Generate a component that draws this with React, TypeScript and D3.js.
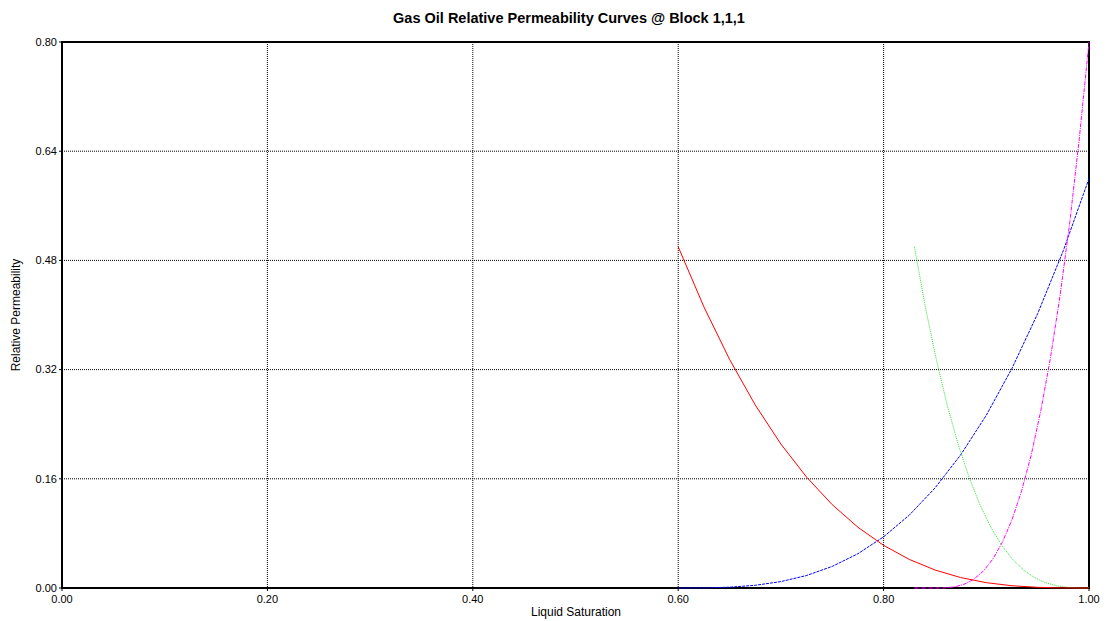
import React from "react";
import * as d3 from "d3";

// Liquid saturation grids and relative permeability tables
const slRegion1 = [0.6, 0.625, 0.65, 0.675, 0.7, 0.725, 0.75, 0.775, 0.8, 0.825, 0.85, 0.875, 0.9, 0.925, 0.95, 0.975, 1.0];
const krgRegion1 = [0.5, 0.412, 0.335, 0.2682, 0.2109, 0.1625, 0.1221, 0.089, 0.0625, 0.0419, 0.0264, 0.0153, 0.0078, 0.0033, 0.001, 0.0001, 0];
const krogRegion1 = [0, 0.00015, 0.00117, 0.00396, 0.00938, 0.01831, 0.03164, 0.05024, 0.075, 0.10679, 0.14648, 0.19497, 0.25313, 0.32183, 0.40195, 0.49439, 0.6];

const slKrgRegion2 = [0.83, 0.8406, 0.8513, 0.8619, 0.8725, 0.8831, 0.8938, 0.9044, 0.915, 0.9256, 0.9363, 0.9469, 0.9575, 0.9681, 0.9788, 0.9894, 1.0];
const krgRegion2 = [0.5, 0.412, 0.335, 0.2682, 0.2109, 0.1625, 0.1221, 0.089, 0.0625, 0.0419, 0.0264, 0.0153, 0.0078, 0.0033, 0.001, 0.0001, 0];

const slKrogRegion2 = [0.83, 0.85, 0.8594, 0.8688, 0.8781, 0.8875, 0.8969, 0.9063, 0.9156, 0.925, 0.9344, 0.9438, 0.9531, 0.9625, 0.9719, 0.9813, 0.9906, 1.0];
const krogRegion2 = [0, 0, 0.0002, 0.00156, 0.00527, 0.0125, 0.0244, 0.0422, 0.067, 0.1, 0.1424, 0.1953, 0.26, 0.3375, 0.4291, 0.5359, 0.6592, 0.8];

const xTicks = [0, 0.2, 0.4, 0.6, 0.8, 1.0];
const yTicks = [0, 0.16, 0.32, 0.48, 0.64, 0.8];

const title = "Gas Oil Relative Permeability Curves @ Block 1,1,1";
const xTitle = "Liquid Saturation";
const yTitle = "Relative Permeability";

const W = 1109;
const H = 621;
const left = 62;
const right = 1089;
const top = 42;
const bottom = 588;

const FONT = "'Liberation Sans', Arial, sans-serif";

export default function App() {
  const x = d3.scaleLinear().domain([0, 1]).range([left, right]);
  const y = d3.scaleLinear().domain([0, 0.8]).range([bottom, top]);

  const line = d3
    .line<[number, number]>()
    .x((d) => x(d[0]))
    .y((d) => y(d[1]));

  const zip = (a: number[], b: number[]) => a.map((v, i) => [v, b[i]] as [number, number]);

  const series = [
    { pts: zip(slRegion1, krogRegion1), color: "#0000ff", dash: "3,1" },
    { pts: zip(slKrogRegion2, krogRegion2), color: "#ff00ff", dash: "4,1,1,1" },
    { pts: zip(slKrgRegion2, krgRegion2), color: "#33e033", dash: "1,1" },
    { pts: zip(slRegion1, krgRegion1), color: "#ff0000", dash: undefined },
  ];

  return (
    <svg
      width={W}
      height={H}
      style={{ position: "absolute", left: 0, top: 0, background: "#ffffff" }}
      fontFamily={FONT}
    >
      <rect x={0} y={0} width={W} height={H} fill="#ffffff" />
      {/* grid */}
      {xTicks.slice(1, -1).map((t) => (
        <line key={"gx" + t} x1={x(t)} x2={x(t)} y1={top} y2={bottom} stroke="#000" strokeWidth={1} strokeDasharray="1,1" />
      ))}
      {yTicks.slice(1, -1).map((t) => (
        <line key={"gy" + t} x1={left} x2={right} y1={y(t)} y2={y(t)} stroke="#000" strokeWidth={1} strokeDasharray="1,1" />
      ))}

      {/* frame */}
      <rect x={left} y={top} width={right - left} height={bottom - top} fill="none" stroke="#000" strokeWidth={2} />

      {/* curves */}
      {series.map((s, i) => (
        <path
          key={i}
          d={line(s.pts) ?? ""}
          fill="none"
          stroke={s.color}
          strokeWidth={1}
          strokeDasharray={s.dash}
        />
      ))}

      {/* y axis ticks and labels */}
      {yTicks.map((t) => (
        <g key={"yt" + t}>
          <line x1={left - 3} x2={left} y1={y(t)} y2={y(t)} stroke="#000" strokeWidth={1} />
          <text x={left - 5} y={y(t)} dy="0.35em" textAnchor="end" fontSize={11} fill="#000">
            {d3.format(".2f")(t)}
          </text>
        </g>
      ))}

      {/* x axis ticks and labels */}
      {xTicks.map((t) => (
        <g key={"xt" + t}>
          <line x1={x(t)} x2={x(t)} y1={bottom} y2={bottom + 3} stroke="#000" strokeWidth={1} />
          <text x={x(t)} y={bottom + 15} textAnchor="middle" fontSize={11} fill="#000">
            {d3.format(".2f")(t)}
          </text>
        </g>
      ))}

      <text x={569} y={23} textAnchor="middle" fontSize={14.5} fontWeight="bold" fill="#000">
        {title}
      </text>
      <text x={576} y={616} textAnchor="middle" fontSize={12} fill="#000">
        {xTitle}
      </text>
      <text
        transform={`translate(20,${(top + bottom) / 2}) rotate(-90)`}
        textAnchor="middle"
        fontSize={12}
        fill="#000"
      >
        {yTitle}
      </text>
    </svg>
  );
}
